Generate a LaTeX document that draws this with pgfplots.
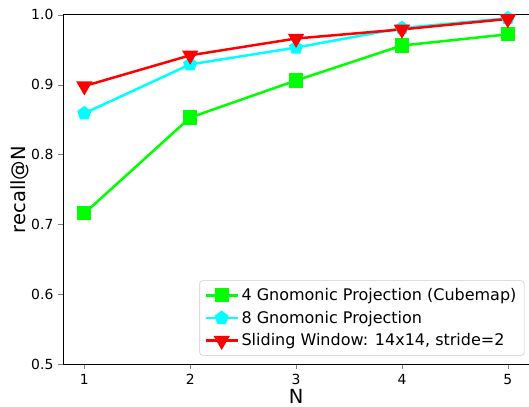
\documentclass[border=0pt]{standalone}
\usepackage{fontspec}
\setmainfont{DejaVu Sans}
\usepackage{pgfplots}
\pgfplotsset{compat=1.18}
\definecolor{mgreen}{HTML}{00FF00}
\definecolor{mcyan}{HTML}{00FFFF}
\definecolor{mred}{HTML}{FF0000}
\begin{document}
\begin{tikzpicture}
\useasboundingbox (-45.4pt,-30.3pt) rectangle (335pt,262pt);
\begin{axis}[
  scale only axis, width=335pt, height=251.4pt,
  xmin=0.8, xmax=5.2, ymin=0.5, ymax=1.0,
  xtick={1,2,3,4,5}, ytick={0.5,0.6,0.7,0.8,0.9,1.0},
  yticklabel style={/pgf/number format/fixed,/pgf/number format/precision=1,/pgf/number format/fixed zerofill},
  /pgf/number format/assume math mode=true,
  tick label style={font=\fontsize{10}{12}\selectfont},
  tick align=outside, tick pos=left,
  major tick length=3.5pt,
  axis line style={line width=0.6pt},
  xlabel={N}, ylabel={recall@N},
  label style={font=\fontsize{14}{16}\selectfont},
  xlabel style={yshift=3.5pt},
  ylabel style={yshift=-5pt},
  legend style={at={(rel axis cs:0.99,0.025)}, anchor=south east,
    font=\fontsize{11.5}{13}\selectfont, draw=black!20, rounded corners=2pt,
    row sep=2pt, inner sep=3.5pt},
  legend cell align=left,
  legend image code/.code={\draw[mark repeat=2,mark phase=2] plot coordinates {(0cm,0cm) (0.4cm,0cm) (0.8cm,0cm)};},
]
\addplot[mgreen, line width=1.8pt, mark=square*, mark size=4.2pt] coordinates {(1,0.716) (2,0.853) (3,0.906) (4,0.956) (5,0.972)};
\addplot[mcyan, line width=1.8pt, mark=pentagon*, mark size=4.2pt] coordinates {(1,0.859) (2,0.929) (3,0.953) (4,0.981) (5,0.995)};
\addplot[mred, line width=1.8pt, mark=triangle*, mark size=5pt, mark options={rotate=180}] coordinates {(1,0.898) (2,0.942) (3,0.966) (4,0.979) (5,0.994)};
\legend{4 Gnomonic Projection (Cubemap), 8 Gnomonic Projection, {Sliding Window: 14x14, stride=2}}
\end{axis}
\end{tikzpicture}
\end{document}
